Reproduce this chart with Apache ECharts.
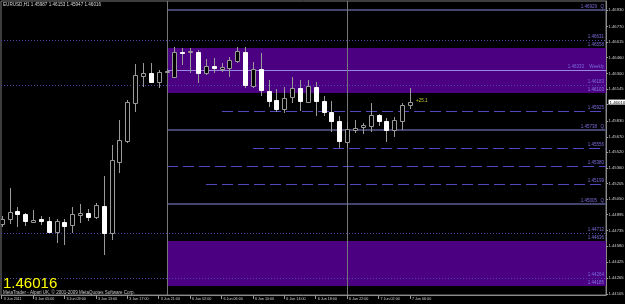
<!DOCTYPE html>
<html><head><meta charset="utf-8">
<script src="https://cdn.jsdelivr.net/npm/echarts@6/dist/echarts.min.js"></script>
<style>html,body{margin:0;padding:0;background:#000;}#c{width:625px;height:304px;}</style>
</head><body><div id="c"></div>
<script>
// ---- data ----
const symbolTitle = 'EURUSD,H1';
const lastBar = [1.45987, 1.46153, 1.45947, 1.46016]; // O H L C
const currentPrice = 1.46016;
const copyright = 'MetaTrader - Alpari UK, © 2001-2009 MetaQuotes Software Corp.';
const profitText = '+25.1';

const opens = [1.44802,1.44848,1.44931,1.44898,1.44826,1.44854,1.44834,1.44725,1.44824,1.44789,
  1.44894,1.44908,1.44874,1.44981,1.44715,1.45422,1.45631,1.46010,1.46279,1.46303,
  1.46213,1.46319,1.46263,1.46518,1.46512,1.46512,1.46309,1.46378,1.46348,1.46358,
  1.46428,1.46518,1.46179,1.46342,1.46129,1.46037,1.45944,1.46064,1.46153,1.46020,
  1.46169,1.46030,1.45920,1.45830,1.45621,1.45738,1.45765,1.45781,1.45887,1.45830,
  1.45738,1.45830,1.45987];
const highs = [1.44881,1.45160,1.44974,1.44908,1.44941,1.44881,1.44868,1.44854,1.44848,1.44968,
  1.45001,1.44951,1.45014,1.45280,1.45588,1.45837,1.46037,1.46392,1.46402,1.46402,
  1.46335,1.46345,1.46562,1.46552,1.46552,1.46535,1.46445,1.46452,1.46408,1.46468,
  1.46568,1.46568,1.46418,1.46508,1.46236,1.46143,1.46169,1.46269,1.46236,1.46236,
  1.46219,1.46076,1.46027,1.45877,1.45820,1.45837,1.45810,1.46004,1.45897,1.45854,
  1.45864,1.46004,1.46153];
const lows = [1.44772,1.44802,1.44775,1.44782,1.44811,1.44792,1.44709,1.44615,1.44589,1.44709,
  1.44809,1.44828,1.44848,1.44493,1.44642,1.45313,1.45605,1.45914,1.46169,1.46206,
  1.46153,1.46306,1.46256,1.46385,1.46303,1.46203,1.46286,1.46303,1.46313,1.46269,
  1.46405,1.46153,1.46153,1.46076,1.45970,1.45920,1.45910,1.46004,1.45927,1.46004,
  1.45877,1.45877,1.45721,1.45556,1.45556,1.45705,1.45698,1.45721,1.45778,1.45621,
  1.45671,1.45738,1.45947];
const closes = [1.44851,1.44924,1.44898,1.44834,1.44846,1.44834,1.44725,1.44828,1.44785,1.44901,
  1.44908,1.44874,1.44988,1.44715,1.45439,1.45638,1.46017,1.46286,1.46303,1.46213,
  1.46319,1.46328,1.46518,1.46505,1.46525,1.46309,1.46375,1.46352,1.46365,1.46435,
  1.46525,1.46186,1.46342,1.46136,1.46030,1.45944,1.46060,1.46153,1.46027,1.46176,
  1.46027,1.45914,1.45830,1.45628,1.45745,1.45755,1.45788,1.45884,1.45830,1.45738,
  1.45837,1.45987,1.46016];

const xTickBars = [0,4,8,12,16,20,24,28,32,36,40,44,48,52];
const xTickLabels = ['3 Jun 2011','3 Jun 05:00','3 Jun 09:00','3 Jun 13:00','3 Jun 17:00','3 Jun 21:00',
  '6 Jun 02:00','6 Jun 06:00','6 Jun 10:00','6 Jun 14:00','6 Jun 18:00','6 Jun 22:00','7 Jun 02:00','7 Jun 06:00'];
const priceTicks = [1.46930,1.46770,1.46615,1.46460,1.46300,1.46145,1.45990,1.45830,1.45670,1.45520,
  1.45360,1.45205,1.45050,1.44895,1.44735,1.44580,1.44425,1.44265,1.44105];

const separatorBars = [21, 44];

const levelPrices = [1.46929,1.46631,1.46333,1.46183,1.45925,1.45738,1.45556,1.45380,1.45199,1.45005,1.44712,1.44264];
const levelKinds  = ['solid','dotted','weekly','dotted','dashed','solid','dashed','dashed','dashed','solid','dotted','dotted'];
const levelStarts = [21,-1,21,-1,28,21,32,21,26,21,-1,-1];
const levelSuffix = ['Q','','Weekly','','','Q','','','','Q','',''];

const boxStartBar = 21;
const boxTops = [1.46558, 1.44636];
const boxBottoms = [1.46103, 1.44185];

// ---- chart ----
const FONT = 'Liberation Sans, Arial, sans-serif';
const chart = echarts.init(document.getElementById('c'), null, {renderer:'canvas'});

const candleData = opens.map((o,i)=>[i, o, closes[i], lows[i], highs[i]]);

const option = {
  animation:false,
  backgroundColor:'#000000',
  grid:{left:1, top:1, right:19, bottom:9, show:true, borderColor:'#7a7a7a', borderWidth:1, outerBoundsMode:'none', containLabel:false},
  xAxis:{
    type:'value', min:-0.089, max:76.98,
    splitLine:{show:false},
    axisLine:{show:true, onZero:false, lineStyle:{color:'#8a8a8a'}},
    axisTick:{show:true, customValues:xTickBars, length:4, lineStyle:{color:'#9a9a9a'}},
    axisLabel:{customValues:xTickBars, hideOverlap:false, align:'left', margin:2, padding:[0,0,0,2],
      color:'#d0d0d0', fontSize:3.7, fontFamily:FONT,
      formatter:(v)=>{const k=xTickBars.indexOf(Math.round(v)); return k>=0?xTickLabels[k]:'';}}
  },
  yAxis:{
    type:'value', position:'right', min:1.440949, max:1.470226,
    splitLine:{show:false},
    axisLine:{show:true, onZero:false, lineStyle:{color:'#8a8a8a'}},
    axisTick:{show:true, customValues:priceTicks, length:2, lineStyle:{color:'#9a9a9a'}},
    axisLabel:{customValues:priceTicks.concat([currentPrice]), hideOverlap:false, margin:2.5,
      color:'#d0d0d0', fontSize:4.2, fontFamily:FONT,
      formatter:(v)=>{
        if (Math.abs(v-currentPrice)<1e-7) return '{c|'+currentPrice.toFixed(5)+'}';
        if (Math.abs(v-currentPrice)<0.0005) return '';
        return v.toFixed(5);
      },
      rich:{c:{backgroundColor:'#ffffff', color:'#000000', fontSize:4.4, fontFamily:FONT, padding:[1,1,0,1]}}
    }
  },
  graphic:[
    {type:'text', left:3, top:2.5, z:100, style:{text:symbolTitle+' '+lastBar.map(v=>v.toFixed(5)).join(' '), fill:'#d8d8d8', font:'4.6px '+FONT}},
    {type:'text', left:3, top:276, z:100, style:{text:currentPrice.toFixed(5), fill:'#ffff00', font:'15px '+FONT}},
    {type:'text', left:3, top:290, z:100, style:{text:copyright, fill:'#c8c8c8', font:'4.5px '+FONT}},
    {type:'text', left:416, top:98.5, z:100, style:{text:profitText, fill:'#c8c832', font:'4.6px '+FONT}}
  ],
  series:[
    { // purple zones
      type:'custom', z:1, clip:true,
      data: boxTops.map((t,i)=>[boxStartBar, t, boxBottoms[i]]),
      encode:{x:0, y:[1,2]},
      renderItem:(params, api)=>{
        const cs = params.coordSys;
        const p1 = api.coord([api.value(0), api.value(1)]);
        const p2 = api.coord([api.value(0), api.value(2)]);
        const x0 = Math.round(p1[0]), x1 = cs.x + cs.width;
        const y0 = Math.round(p1[1]), y1 = Math.round(p2[1]);
        return {type:'group', children:[
          {type:'rect', shape:{x:x0, y:y0, width:x1-x0, height:y1-y0}, style:{fill:'#4b0082'}},
          {type:'text', style:{text:api.value(1).toFixed(5), x:x1-2, y:y0-0.5, align:'right', verticalAlign:'bottom', fill:'#7c6cdc', font:'4.5px '+FONT}},
          {type:'text', style:{text:api.value(2).toFixed(5), x:x1-2, y:y1-0.5, align:'right', verticalAlign:'bottom', fill:'#8a7ae6', font:'4.5px '+FONT}}
        ]};
      }
    },
    { // horizontal levels
      type:'custom', z:2, clip:true,
      data: levelPrices.map((p,i)=>[levelStarts[i], p]),
      encode:{x:0, y:1},
      renderItem:(params, api)=>{
        const cs = params.coordSys;
        const k = params.dataIndex;
        const kind = levelKinds[k];
        const start = api.value(0);
        const pt = api.coord([start < 0 ? 0 : start, api.value(1)]);
        const x0 = start < 0 ? cs.x : Math.round(pt[0]);
        const x1 = cs.x + cs.width;
        let y = Math.round(pt[1]);
        let style;
        if (kind==='solid') style = {stroke:'#44446c', lineWidth:2};
        else if (kind==='dotted') style = {stroke:'#4c48a8', lineWidth:1, lineDash:[1,2]};
        else if (kind==='dashed') style = {stroke:'#5248c0', lineWidth:1, lineDash:[11,5]};
        else style = {stroke:'#9a86e0', lineWidth:1};
        const yl = kind==='solid' ? y : y + 0.5;
        const children = [{type:'line', shape:{x1:x0, y1:yl, x2:x1, y2:yl}, style}];
        const sfx = levelSuffix[k];
        const col = '#7c6cdc';
        if (sfx) {
          const off = sfx==='Q' ? 9 : 22;
          children.push({type:'text', style:{text:api.value(1).toFixed(5), x:x1-off, y:y-1, align:'right', verticalAlign:'bottom', fill:col, font:'4.5px '+FONT}});
          children.push({type:'text', style:{text:sfx, x:x1-2, y:y-1, align:'right', verticalAlign:'bottom', fill:col, font:'4.5px '+FONT}});
        } else {
          children.push({type:'text', style:{text:api.value(1).toFixed(5), x:x1-2, y:y-1, align:'right', verticalAlign:'bottom', fill:col, font:'4.5px '+FONT}});
        }
        return {type:'group', children};
      }
    },
    { // period separators
      type:'custom', z:3, clip:true,
      data: separatorBars.map(b=>[b, currentPrice]),
      encode:{x:0, y:1},
      renderItem:(params, api)=>{
        const cs = params.coordSys;
        const x = Math.round(api.coord([api.value(0), api.value(1)])[0]) + 0.5;
        return {type:'line', shape:{x1:x, y1:cs.y, x2:x, y2:cs.y+cs.height}, style:{stroke:'#767676', lineWidth:1}};
      }
    },
    { // candles
      type:'custom', z:5, clip:true,
      data: candleData,
      encode:{x:0, y:[1,2,3,4]},
      renderItem:(params, api)=>{
        const i = api.value(0), o = api.value(1), c = api.value(2), l = api.value(3), h = api.value(4);
        const pO = api.coord([i,o]), pC = api.coord([i,c]), pL = api.coord([i,l]), pH = api.coord([i,h]);
        const cx = Math.round(pO[0]);
        const top = Math.round(Math.min(pO[1], pC[1]));
        const bot = Math.round(Math.max(pO[1], pC[1]));
        const bull = c >= o;
        const grey = '#9a9a9a';
        return {type:'group', children:[
          {type:'line', shape:{x1:cx+0.5, y1:Math.round(pH[1]), x2:cx+0.5, y2:Math.round(pL[1])}, style:{stroke:grey, lineWidth:1}},
          {type:'rect', shape:{x:cx-1.5, y:top+0.5, width:4, height:Math.max(1, bot-top)},
            style:{fill: bull ? '#000000' : '#ffffff', stroke: bull ? grey : '#ffffff', lineWidth:1}}
        ]};
      }
    }
  ]
};
chart.setOption(option);
</script>
</body></html>
